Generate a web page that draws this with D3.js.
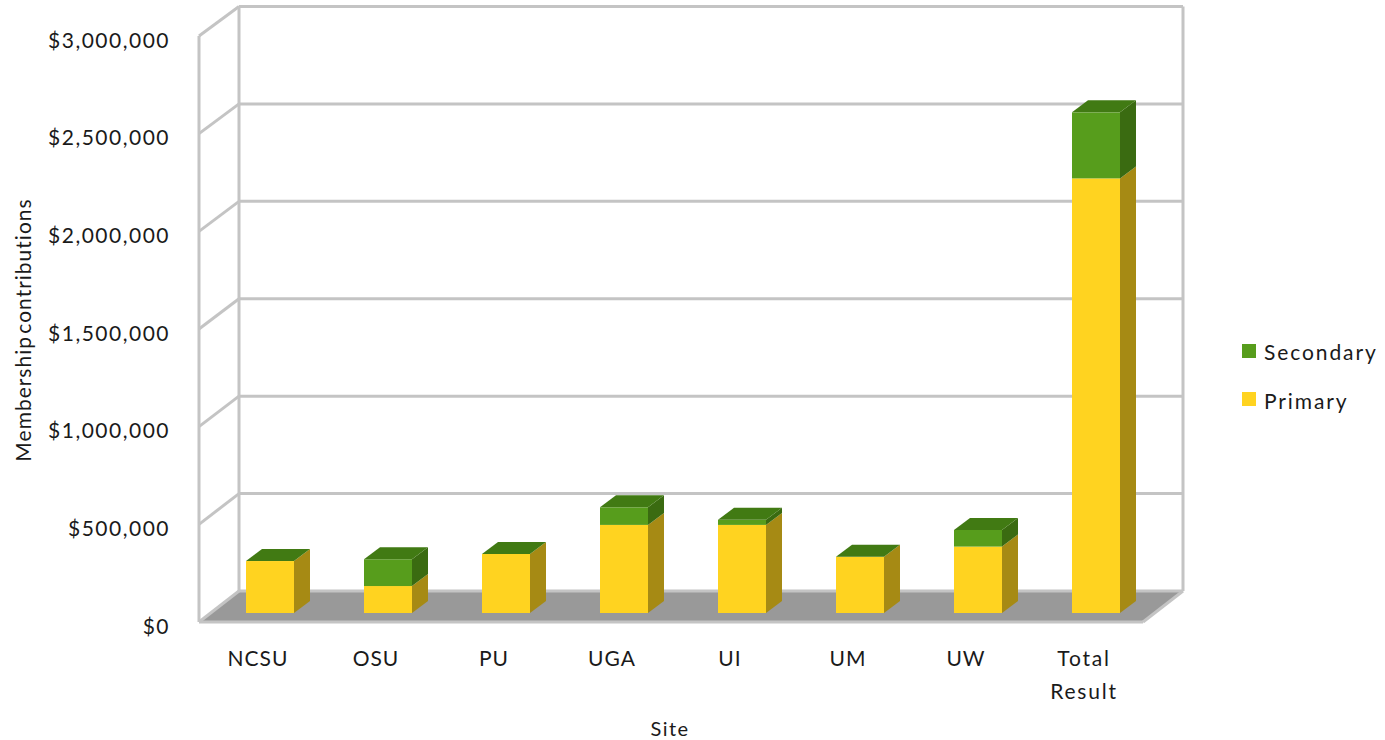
<!DOCTYPE html>
<html>
<head>
<meta charset="utf-8">
<script src="https://cdn.jsdelivr.net/npm/d3@7"></script>
<style>
  html, body { margin: 0; padding: 0; background: #fff; }
  text { font-family: Lato, "Open Sans", sans-serif; fill: #1a1a1a; }
</style>
</head>
<body>
<svg id="chart" width="1385" height="740"></svg>
<script>
// values
const sites = ["NCSU", "OSU", "PU", "UGA", "UI", "UM", "UW", "Total Result"]
const primary = [266000, 138000, 302000, 451000, 451000, 288000, 340000, 2225000]
const secondary = [0, 137000, 0, 90000, 26000, 0, 85000, 338000]
const seriesNames = ["Primary", "Secondary"]
const yTicks = [0, 500000, 1000000, 1500000, 2000000, 2500000, 3000000]

const colors = {
    Primary: { front: "#ffd320", side: "#a68a14" },
    Secondary: { front: "#579d1c", side: "#3a6b11", top: "#417a13" }
}
const wallColor = "#c4c4c4"

// front plane of the 3d box
const plotLeft = 199, plotRight = 1143, plotBottom = 622, plotTop = 36
// back wall, a little shorter than the front because of the perspective
const backBottom = 591, backTop = 6.5, depthX = 40
const barDepthX = 16, barDepthY = 12
const barWidth = 48, barLift = 9

const svg = d3.select("#chart")

const x = d3.scaleBand().domain(sites).range([plotLeft, plotRight])
const y = d3.scaleLinear().domain([0, 3000000]).range([plotBottom, plotTop])
const yBack = d3.scaleLinear().domain([0, 3000000]).range([backBottom, backTop])

const rows = sites.map((s, i) => ({ site: s, Primary: primary[i], Secondary: secondary[i] }))
const stacked = d3.stack().keys(seriesNames)(rows)

function poly(points) {
    const p = d3.path()
    points.forEach((pt, i) => i ? p.lineTo(pt[0], pt[1]) : p.moveTo(pt[0], pt[1]))
    p.closePath()
    return p.toString()
}

function segment(g, a, b) {
    g.append("line")
        .attr("x1", a[0]).attr("y1", a[1])
        .attr("x2", b[0]).attr("y2", b[1])
        .attr("stroke", wallColor)
        .attr("stroke-width", 3)
}

/*
 * Walls and floor
 */
const walls = svg.append("g")

walls.append("path")
    .attr("d", poly([[plotLeft, plotBottom], [plotLeft + depthX, backBottom],
        [plotRight + depthX, backBottom], [plotRight, plotBottom]]))
    .attr("fill", "#999999")

yTicks.forEach(v => {
    segment(walls, [plotLeft, y(v)], [plotLeft + depthX, yBack(v)])
    segment(walls, [plotLeft + depthX, yBack(v)], [plotRight + depthX, yBack(v)])
})
segment(walls, [plotLeft, plotTop], [plotLeft, plotBottom])
segment(walls, [plotLeft + depthX, backTop], [plotLeft + depthX, backBottom])
segment(walls, [plotRight + depthX, backTop], [plotRight + depthX, backBottom])
segment(walls, [plotLeft, plotBottom], [plotRight, plotBottom])
segment(walls, [plotRight, plotBottom], [plotRight + depthX, backBottom])

/*
 * Stacked bars, left to right and bottom to top so the overlaps come out right
 */
const bars = svg.append("g")

sites.forEach((site, i) => {
    const x0 = x(site) + 47
    const x1 = x0 + barWidth
    stacked.forEach(layer => {
        const c = colors[layer.key]
        const y0 = y(layer[i][0]) - barLift
        const y1 = y(layer[i][1]) - barLift
        bars.append("path")
            .attr("d", poly([[x1, y0], [x1 + barDepthX, y0 - barDepthY],
                [x1 + barDepthX, y1 - barDepthY], [x1, y1]]))
            .attr("fill", c.side)
        bars.append("rect")
            .attr("x", x0)
            .attr("y", y1)
            .attr("width", barWidth)
            .attr("height", y0 - y1)
            .attr("fill", c.front)
    })
    const yTop = y(primary[i] + secondary[i]) - barLift
    bars.append("path")
        .attr("d", poly([[x0, yTop], [x0 + barDepthX, yTop - barDepthY],
            [x1 + barDepthX, yTop - barDepthY], [x1, yTop]]))
        .attr("fill", colors.Secondary.top)
})

/*
 * Axes
 */
const yAxis = svg.append("g")
    .attr("transform", "translate(182, 4.5)")
    .call(d3.axisLeft(y).tickValues(yTicks).tickFormat(d3.format("$,")).tickSize(0).tickPadding(12))
yAxis.select(".domain").remove()
yAxis.selectAll("text")
    .attr("font-size", 21)
    .style("font-family", "Lato")
    .style("letter-spacing", "1.5px")

const xAxis = svg.append("g")
    .attr("transform", "translate(0, 656.5)")
    .call(d3.axisBottom(x).tickSize(0).tickPadding(0))
xAxis.select(".domain").remove()
xAxis.selectAll("text")
    .attr("font-size", 21)
    .style("font-family", "Lato")
    .style("letter-spacing", d => d.includes(" ") ? "1.8px" : "1px")
    .each(function (d) {
        const words = d.split(" ")
        const t = d3.select(this).text(null)
        words.forEach((w, i) => {
            t.append("tspan").attr("x", 0).attr("dy", i ? 33 : 9).text(w)
        })
    })

svg.append("text")
    .attr("x", 670)
    .attr("y", 736)
    .attr("text-anchor", "middle")
    .attr("font-size", 20)
    .style("letter-spacing", "1.4px")
    .text("Site")

svg.append("text")
    .attr("transform", "translate(31, 330) rotate(-90)")
    .attr("text-anchor", "middle")
    .attr("font-size", 21)
    .style("letter-spacing", "1px")
    .style("word-spacing", "-4px")
    .text("Membership contributions")

/*
 * Legend, secondary on top like the stack
 */
const legend = svg.append("g")
seriesNames.slice().reverse().forEach((name, i) => {
    const ly = 344 + i * 48
    legend.append("rect")
        .attr("x", 1242)
        .attr("y", ly)
        .attr("width", 14)
        .attr("height", 14)
        .attr("fill", colors[name].front)
    legend.append("text")
        .attr("x", 1264)
        .attr("y", ly + 16 + i)
        .attr("font-size", 21)
        .style("letter-spacing", "1.9px")
        .text(name)
})
</script>
</body>
</html>
